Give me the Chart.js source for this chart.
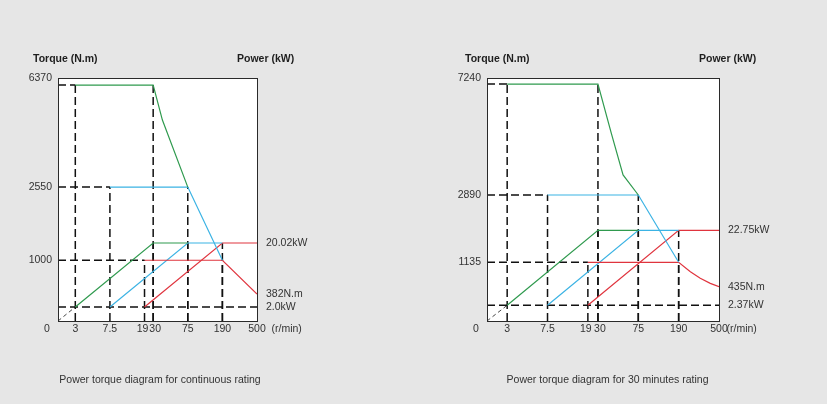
<!DOCTYPE html>
<html>
<head>
<meta charset="utf-8">
<script src="https://cdn.jsdelivr.net/npm/chart.js@4.4.1/dist/chart.umd.min.js"></script>
<style>
  html, body { margin: 0; padding: 0; background: #e6e6e6; }
  .wrap { position: relative; width: 827px; height: 404px; }
  .wrap canvas { position: absolute; left: 0; top: 0; }
</style>
</head>
<body>
<div class="wrap">
  <canvas id="contChart" width="827" height="404"></canvas>
  <canvas id="minChart" width="827" height="404"></canvas>
</div>
<script>
// speed axis (r/min)
const speedTicks = [0, 3, 7.5, 19, 30, 75, 190, 500];

// continuous rating
const contTorqueTicks = [1000, 2550, 6370];
const contGreenSpeed = [3, 30, 42, 75];
const contGreenTorque = [6370, 6370, 5060, 2550];
const contBlueSpeed = [7.5, 75, 190];
const contBlueTorque = [2550, 2550, 1000];
const contRedSpeed = [19, 190, 500];
const contRedTorque = [1000, 1000, 382];
const contGreenPowerSpeed = [3, 30, 75];
const contGreenPower = [2.0, 20.02, 20.02];
const contBluePowerSpeed = [7.5, 75, 190];
const contBluePower = [2.0, 20.02, 20.02];
const contRedPowerSpeed = [19, 190, 500];
const contRedPower = [2.0, 20.02, 20.02];
const contSideLabels = ['20.02kW', '382N.m', '2.0kW'];

// 30 minutes rating
const minTorqueTicks = [1135, 2890, 7240];
const minGreenSpeed = [3, 30, 45, 58, 75];
const minGreenTorque = [7240, 7240, 5300, 3680, 2890];
const minBlueSpeed = [7.5, 75, 190];
const minBlueTorque = [2890, 2890, 1135];
const minRedSpeed = [19, 190, 280, 356, 433, 500];
const minRedTorque = [1135, 1135, 865, 678, 532, 435];
const minGreenPowerSpeed = [3, 30, 75];
const minGreenPower = [2.37, 22.75, 22.75];
const minBluePowerSpeed = [7.5, 75, 190];
const minBluePower = [2.37, 22.75, 22.75];
const minRedPowerSpeed = [19, 190, 500];
const minRedPower = [2.37, 22.75, 22.75];
const minSideLabels = ['22.75kW', '435N.m', '2.37kW'];

const GREEN = '#2f9a4e';
const BLUE = '#3bb3e4';
const RED = '#e0343e';
const FONT = '"Liberation Sans", Arial, sans-serif';

// the drawing is schematic, not to scale: piecewise linear axis
function interp(v, from, to) {
  if (v == null || isNaN(v)) return NaN;
  let i = 0;
  while (i < from.length - 2 && v > from[i + 1]) i++;
  const t = (v - from[i]) / (from[i + 1] - from[i]);
  return to[i] + t * (to[i + 1] - to[i]);
}

class BreakScale extends Chart.LinearScale {
  getPixelForValue(value) {
    return this.getPixelForDecimal(interp(value, this.options.breakValues, this.options.breakPos));
  }
  getValueForPixel(pixel) {
    return interp(this.getDecimalForPixel(pixel), this.options.breakPos, this.options.breakValues);
  }
}
BreakScale.id = 'breaks';
BreakScale.defaults = {};
Chart.register(BreakScale);

function pts(xs, ys) {
  return xs.map((v, i) => ({ x: v, y: ys[i] }));
}

function curve(xs, ys, color, axis) {
  return { data: pts(xs, ys), yAxisID: axis, borderColor: color, borderWidth: 1.2 };
}

function dashed(data, axis) {
  return { data: data, yAxisID: axis, borderColor: '#111', borderWidth: 1.5, borderDash: [8, 4] };
}

// frame, white plot area and all the axis text
const diagramText = {
  id: 'diagramText',
  beforeDraw(chart) {
    const { ctx, chartArea: a } = chart;
    ctx.save();
    ctx.fillStyle = '#fff';
    ctx.fillRect(a.left, a.top, a.right - a.left + 1, a.bottom - a.top + 1);
    ctx.restore();
  },
  afterDraw(chart, args, o) {
    const { ctx, chartArea: a, scales } = chart;
    const { x, y, p } = scales;
    ctx.save();
    ctx.strokeStyle = '#2a2a2a';
    ctx.lineWidth = 1;
    ctx.strokeRect(a.left + 0.5, a.top + 0.5, a.right - a.left, a.bottom - a.top);

    ctx.fillStyle = '#1e1e1e';
    ctx.textBaseline = 'middle';
    ctx.font = 'bold 10.5px ' + FONT;
    ctx.textAlign = 'left';
    ctx.fillText('Torque (N.m)', o.torqueTitleX, 59);
    ctx.fillText('Power (kW)', a.right - 20, 59);

    ctx.fillStyle = '#333';
    ctx.font = '10.5px ' + FONT;
    ctx.textAlign = 'right';
    o.torqueTicks.forEach((v, i) => {
      const py = i === o.torqueTicks.length - 1 ? a.top : y.getPixelForValue(v);
      ctx.fillText(String(v), a.left - 6, py);
    });

    ctx.textAlign = 'center';
    const ly = a.bottom + 8;
    ctx.fillText('0', a.left - 11, ly);
    speedTicks.slice(1).forEach(v => {
      ctx.fillText(String(v), x.getPixelForValue(v) + (o.nudge[v] || 0), ly);
    });
    ctx.textAlign = 'left';
    ctx.fillText('(r/min)', x.getPixelForValue(500) + o.unitOffset, ly);

    o.side.forEach(s => {
      const sc = s.axis === 'p' ? p : y;
      ctx.fillText(s.text, a.right + 9, sc.getPixelForValue(s.value));
    });

    ctx.textAlign = 'center';
    ctx.fillText(o.caption, o.captionX, 380);
    ctx.restore();
  }
};

function makeChart(id, c) {
  const curves = [
    { speed: c.greenSpeed, torque: c.greenTorque },
    { speed: c.blueSpeed, torque: c.blueTorque },
    { speed: c.redSpeed, torque: c.redTorque }
  ];
  const powers = [
    { speed: c.greenPowerSpeed, power: c.greenPower },
    { speed: c.bluePowerSpeed, power: c.bluePower },
    { speed: c.redPowerSpeed, power: c.redPower }
  ];
  const colors = [GREEN, BLUE, RED];

  const datasets = [];
  curves.forEach((k, i) => datasets.push(curve(k.speed, k.torque, colors[i], 'y')));
  powers.forEach((k, i) => datasets.push(curve(k.speed, k.power, colors[i], 'p')));

  // dashed guide lines
  curves.forEach(k => {
    datasets.push(dashed([{ x: 0, y: k.torque[0] }, { x: k.speed[0], y: k.torque[0] }], 'y'));
    datasets.push(dashed([{ x: k.speed[0], y: 0 }, { x: k.speed[0], y: k.torque[0] }], 'y'));
    datasets.push(dashed([{ x: k.speed[1], y: 0 }, { x: k.speed[1], y: k.torque[1] }], 'y'));
  });
  powers.forEach(k => {
    datasets.push(dashed([{ x: k.speed[1], y: 0 }, { x: k.speed[1], y: k.power[1] }], 'p'));
  });
  const pMin = c.greenPower[0];
  datasets.push(dashed([{ x: 0, y: pMin }, { x: speedTicks[speedTicks.length - 1], y: pMin }], 'p'));
  datasets.push({
    data: [{ x: 0, y: 0 }, { x: c.greenPowerSpeed[0], y: pMin }], yAxisID: 'p',
    borderColor: '#333', borderWidth: 0.9, borderDash: [4, 3]
  });

  const last = curves[2];
  return new Chart(id, {
    type: 'line',
    data: { datasets: datasets },
    options: {
      responsive: false,
      animation: false,
      events: [],
      layout: { padding: c.padding },
      elements: { point: { radius: 0 }, line: { tension: 0 } },
      plugins: {
        legend: { display: false },
        tooltip: { enabled: false },
        diagramText: {
          torqueTicks: c.torqueTicks,
          torqueTitleX: c.torqueTitleX,
          nudge: { 19: -2, 30: 2 },
          unitOffset: c.unitOffset,
          caption: c.caption,
          captionX: c.captionX,
          side: [
            { text: c.sideLabels[0], axis: 'p', value: c.redPower[1] },
            { text: c.sideLabels[1], axis: 'y', value: last.torque[last.torque.length - 1] },
            { text: c.sideLabels[2], axis: 'p', value: c.redPower[0] }
          ]
        }
      },
      scales: {
        x: {
          type: 'breaks', display: false, min: 0, max: 500,
          breakValues: speedTicks,
          breakPos: [0, 1, 3, 5, 5.5, 7.5, 9.5, 11.5].map(v => v / 11.5)
        },
        y: {
          type: 'breaks', display: false, min: 0, max: c.torqueBreaks[c.torqueBreaks.length - 1],
          breakValues: c.torqueBreaks, breakPos: c.torquePos
        },
        p: {
          type: 'breaks', display: false, position: 'right', min: 0, max: c.powerBreaks[c.powerBreaks.length - 1],
          breakValues: c.powerBreaks, breakPos: c.powerPos
        }
      }
    },
    plugins: [diagramText]
  });
}

makeChart('contChart', {
  greenSpeed: contGreenSpeed, greenTorque: contGreenTorque,
  blueSpeed: contBlueSpeed, blueTorque: contBlueTorque,
  redSpeed: contRedSpeed, redTorque: contRedTorque,
  greenPowerSpeed: contGreenPowerSpeed, greenPower: contGreenPower,
  bluePowerSpeed: contBluePowerSpeed, bluePower: contBluePower,
  redPowerSpeed: contRedPowerSpeed, redPower: contRedPower,
  torqueTicks: contTorqueTicks,
  sideLabels: contSideLabels,
  torqueBreaks: [0, 382, 1000, 2550, 6370, 6640],
  torquePos: [0, 0.111, 0.25, 0.551, 0.971, 1],
  powerBreaks: [0, 2.0, 20.02, 66],
  powerPos: [0, 0.0576, 0.321, 1],
  padding: { left: 58, right: 570, top: 78, bottom: 83 },
  torqueTitleX: 33,
  unitOffset: 14.5,
  caption: 'Power torque diagram for continuous rating',
  captionX: 160
});

makeChart('minChart', {
  greenSpeed: minGreenSpeed, greenTorque: minGreenTorque,
  blueSpeed: minBlueSpeed, blueTorque: minBlueTorque,
  redSpeed: minRedSpeed, redTorque: minRedTorque,
  greenPowerSpeed: minGreenPowerSpeed, greenPower: minGreenPower,
  bluePowerSpeed: minBluePowerSpeed, bluePower: minBluePower,
  redPowerSpeed: minRedPowerSpeed, redPower: minRedPower,
  torqueTicks: minTorqueTicks,
  sideLabels: minSideLabels,
  torqueBreaks: [0, 435, 1135, 2890, 7240, 7480],
  torquePos: [0, 0.141, 0.2416, 0.5185, 0.975, 1],
  powerBreaks: [0, 2.37, 22.75, 64],
  powerPos: [0, 0.0646, 0.373, 1],
  padding: { left: 487, right: 108, top: 78, bottom: 83 },
  torqueTitleX: 465,
  unitOffset: 7.5,
  caption: 'Power torque diagram for 30 minutes rating',
  captionX: 607.5
});
</script>
</body>
</html>
